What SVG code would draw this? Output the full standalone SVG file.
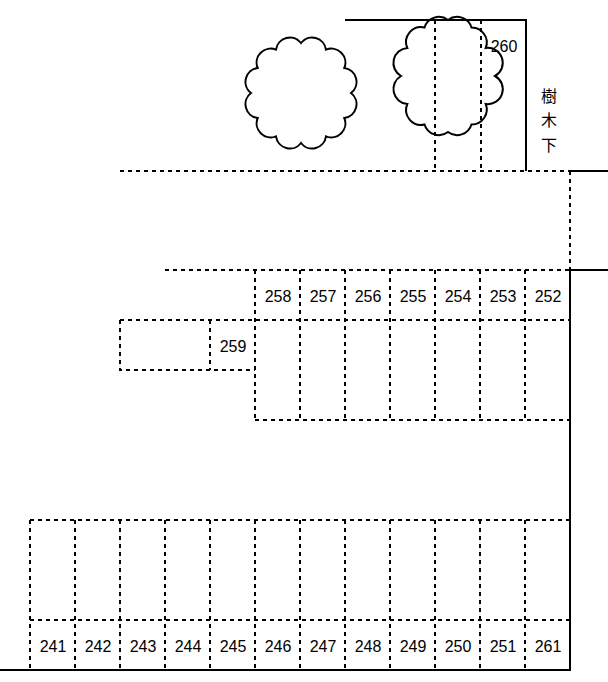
<svg xmlns="http://www.w3.org/2000/svg" width="608" height="682" viewBox="0 0 608 682">
<style>
.d{stroke:#000;stroke-width:2;stroke-dasharray:4 4;fill:none}
.s{stroke:#000;stroke-width:2;fill:none}
.c{stroke:#000;stroke-width:2;fill:#fff}
text{font-family:"Liberation Sans",Arial,"Noto Sans CJK JP",sans-serif;font-size:16px;text-anchor:middle;dominant-baseline:central;fill:#000}
</style>
<rect width="608" height="682" fill="#fff"/>
<g id="trees">
<path class="c" d="M351,93 A14,14 0 0 1 344.3,118 A14,14 0 0 1 326,136.3 A14,14 0 0 1 301,143 A14,14 0 0 1 276,136.3 A14,14 0 0 1 257.7,118 A14,14 0 0 1 251,93 A14,14 0 0 1 257.7,68 A14,14 0 0 1 276,49.7 A14,14 0 0 1 301,43 A14,14 0 0 1 326,49.7 A14,14 0 0 1 344.3,68 A14,14 0 0 1 351,93 Z"/>
<path class="c" d="M495,76 A15,15 0 0 1 485.7,104 A15,15 0 0 1 471.5,124.5 A15,15 0 0 1 448,132 A15,15 0 0 1 424.5,124.5 A15,15 0 0 1 407.3,104 A15,15 0 0 1 401,76 A15,15 0 0 1 407.3,48 A15,15 0 0 1 424.5,27.5 A15,15 0 0 1 448,20 A15,15 0 0 1 471.5,27.5 A15,15 0 0 1 485.7,48 A15,15 0 0 1 495,76 Z"/>
</g>
<g id="walls">
<path class="s" d="M345,20 H526 V171"/>
<path class="s" d="M570,171 H608"/>
<path class="s" d="M608,270 H570 V670 H0"/>
</g>
<g id="lines">
<path class="d" d="M435,20 V170 M481,20 V170 M120,171 H570 M570,171 V270 M165,270 H570"/>
<path class="d" d="M255,270 V420 M300,270 V420 M345,270 V420 M390,270 V420 M435,270 V420 M480,270 V420 M525,270 V420 M120,320 H570 M255,420 H570"/>
<path class="d" d="M120,320 V370 H255 M210,320 V370"/>
<path class="d" d="M30,520 H570 M30,620 H570 M30,520 V670 M75,520 V670 M120,520 V670 M165,520 V670 M210,520 V670 M255,520 V670 M300,520 V670 M345,520 V670 M390,520 V670 M435,520 V670 M480,520 V670 M525,520 V670"/>
</g>
<g id="labels">
<text x="504" y="46">260</text>
<text x="549" y="96">樹</text><text x="549" y="120">木</text><text x="549" y="145">下</text>
<text x="278" y="296">258</text><text x="323" y="296">257</text><text x="368" y="296">256</text><text x="413" y="296">255</text><text x="458" y="296">254</text><text x="503" y="296">253</text><text x="548" y="296">252</text>
<text x="233" y="346">259</text>
<text x="53" y="646">241</text><text x="98" y="646">242</text><text x="143" y="646">243</text><text x="188" y="646">244</text><text x="233" y="646">245</text><text x="278" y="646">246</text><text x="323" y="646">247</text><text x="368" y="646">248</text><text x="413" y="646">249</text><text x="458" y="646">250</text><text x="503" y="646">251</text><text x="548" y="646">261</text>
</g>
</svg>
